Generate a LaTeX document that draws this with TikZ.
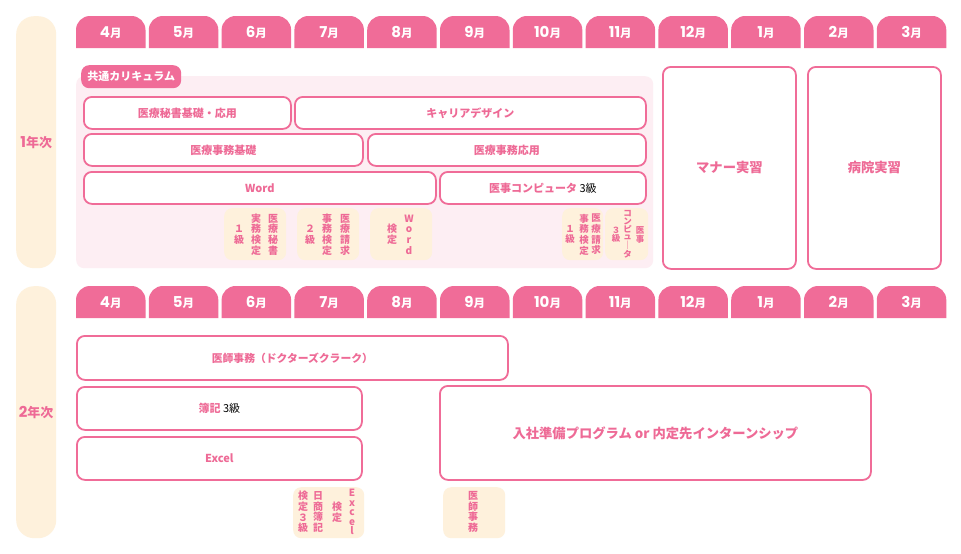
\documentclass[tikz,border=0pt]{standalone}
\usepackage{fontspec}
\setmainfont{Noto Sans CJK JP}
\newfontfamily\pop{Poppins}
\definecolor{pk}{HTML}{F06C98}
\definecolor{pktxt}{HTML}{EE6A96}
\definecolor{cream}{HTML}{FEF1DC}
\definecolor{panelc}{HTML}{FDEEF3}
\begin{document}
\begin{tikzpicture}[x=1pt,y=-1pt,
  tabtxt/.style={text=white, font=\bfseries\fontsize{11.5}{11}\selectfont, inner sep=0},
  box/.style={draw=pk, line width=1.8pt, fill=white, rounded corners=8pt, anchor=north west, inner sep=0, text=pktxt, font=\bfseries\fontsize{11}{12}\selectfont},
  bigbox/.style={box, font=\bfseries\fontsize{13.3}{15}\selectfont},
  midbox/.style={box, font=\bfseries\fontsize{10.8}{12}\selectfont},
  note/.style={fill=cream, rounded corners=8pt, anchor=north west, inner sep=0},
  vcol/.style={align=center, inner sep=0, text=pktxt, font=\bfseries\fontsize{10}{10.7}\selectfont},
  vcols/.style={align=center, inner sep=0, text=pktxt, font=\bfseries\fontsize{9.5}{10.7}\selectfont},
  vcolt/.style={align=center, inner sep=0, text=pktxt, font=\bfseries\fontsize{8.5}{7.6}\selectfont},
  yearlab/.style={fill=cream, rounded corners=18pt, anchor=north west, inner sep=0, minimum width=40pt, minimum height=252pt, text=pktxt, font=\bfseries\fontsize{13}{14}\selectfont},
]
\useasboundingbox[fill=white] (0,0) rectangle (961,554);

% year labels
\node[yearlab] (y1) at (16,16) {{\pop\bfseries\fontsize{15}{14}\selectfont 1}年次};
\node[yearlab] (y2) at (16,286) {{\pop\bfseries\fontsize{15}{14}\selectfont 2}年次};

% month tabs
\foreach \m [count=\i from 0] in {4,5,6,7,8,9,10,11,12,1,2,3} {
  \pgfmathsetmacro\xl{76+72.8*\i}
  \pgfmathsetmacro\xr{\xl+69.5}
  \pgfmathsetmacro\xc{\xl+34.75}
  \fill[pk] (\xl,48) [rounded corners=14pt] -- (\xl,16) -- (\xr,16) [sharp corners] -- (\xr,48) -- cycle;
  \node[tabtxt] (ta\i) at (\xc,32.5) {{\pop\bfseries\fontsize{15}{14}\selectfont\m}月};
  \fill[pk] (\xl,318) [rounded corners=14pt] -- (\xl,286) -- (\xr,286) [sharp corners] -- (\xr,318) -- cycle;
  \node[tabtxt] (tb\i) at (\xc,302.5) {{\pop\bfseries\fontsize{15}{14}\selectfont\m}月};
}

% year 1 panel
\node[fill=panelc, rounded corners=8pt, anchor=north west, inner sep=0, minimum width=577pt, minimum height=192pt] (panel) at (76,76) {};
\node[fill=pk, rounded corners=8pt, anchor=north west, inner sep=0, minimum width=100pt, minimum height=23pt, text=white, font=\bfseries\fontsize{11}{12}\selectfont] (tag) at (81,65) {共通カリキュラム};

\node[box, minimum width=207pt, minimum height=32pt] (b1) at (83,96) {医療秘書基礎・応用};
\node[box, minimum width=351pt, minimum height=32pt] (b2) at (294,96) {キャリアデザイン};
\node[box, minimum width=279pt, minimum height=32pt] (b3) at (83,133) {医療事務基礎};
\node[box, minimum width=278pt, minimum height=32pt] (b4) at (367,133) {医療事務応用};
\node[box, minimum width=352pt, minimum height=32pt] (b5) at (83,171) {Word};
\node[box, minimum width=206pt, minimum height=32pt] (b6) at (439,171) {医事コンピュータ {\color{black}\mdseries 3級}};

\node[bigbox, minimum width=133pt, minimum height=202pt] (b7) at (662,66) {マナー実習};
\node[bigbox, minimum width=133pt, minimum height=202pt] (b8) at (807,66) {病院実習};

% year 1 notes
\node[note, minimum width=62pt, minimum height=52pt] (n1) at (224,208) {};
\node[note, minimum width=62pt, minimum height=52pt] (n2) at (297,208) {};
\node[note, minimum width=62pt, minimum height=52pt] (n3) at (370,208) {};
\node[note, minimum width=41pt, minimum height=52pt] (n4) at (562,208) {};
\node[note, minimum width=43pt, minimum height=52pt] (n5) at (605,208) {};

\node[vcol] (c11) at (239,234.5) {１\\級};
\node[vcol] (c12) at (256,234.5) {実\\務\\検\\定};
\node[vcol] (c13) at (273,234.5) {医\\療\\秘\\書};
\node[vcol] (c21) at (310,234.5) {２\\級};
\node[vcol] (c22) at (327,234.5) {事\\務\\検\\定};
\node[vcol] (c23) at (345,234.5) {医\\療\\請\\求};
\node[vcol] (c31) at (392,234.5) {検\\定};
\node[vcol] (c32) at (409,234.5) {W\\o\\r\\d};
\node[vcols] (c41) at (570,234.5) {１\\級};
\node[vcols] (c42) at (584,234.5) {事\\務\\検\\定};
\node[vcols] (c43) at (596,234.5) {医\\療\\請\\求};
\node[vcolt] (c51) at (616,234.5) {３\\級};
\node[vcolt] (c52) at (627.5,234.5) {コ\\ン\\ピ\\ュ\\｜\\タ};
\node[vcolt] (c53) at (640,234.5) {医\\事};

% year 2
\node[midbox, minimum width=431pt, minimum height=44pt] (b9) at (76,335) {医師事務（ドクターズクラーク）};
\node[box, minimum width=285pt, minimum height=43pt] (b10) at (76,386) {簿記 {\color{black}\mdseries 3級}};
\node[box, minimum width=285pt, minimum height=43pt] (b11) at (76,436) {Excel};
\node[bigbox, minimum width=431pt, minimum height=94pt] (b12) at (439,385) {入社準備プログラム or 内定先インターンシップ};

\node[note, minimum width=71pt, minimum height=51pt] (n6) at (293,487) {};
\node[note, minimum width=62pt, minimum height=51pt] (n7) at (443,487) {};

\node[vcol] (c61) at (303,512) {検\\定\\３\\級};
\node[vcol] (c62) at (318,512) {日\\商\\簿\\記};
\node[vcol] (c63) at (337,512) {検\\定};
\node[vcol, font=\bfseries\fontsize{10}{9.5}\selectfont] (c64) at (352,512) {E\\x\\c\\e\\l};
\node[vcol] (c71) at (473,512) {医\\師\\事\\務};
\end{tikzpicture}
\end{document}
